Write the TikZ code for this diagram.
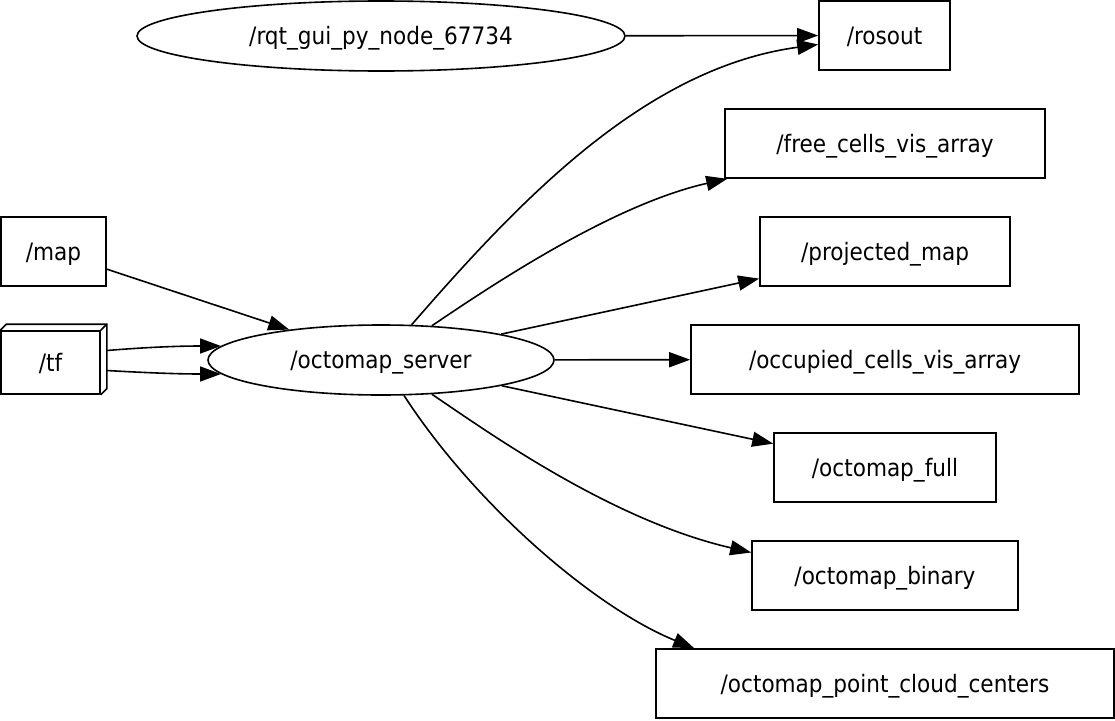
\documentclass[tikz,border=0pt]{standalone}
\usepackage{fontspec}
\setmainfont{DejaVu Sans Condensed}
\usetikzlibrary{arrows.meta,shapes.geometric,calc}
\begin{document}
\begin{tikzpicture}[x=1pt,y=-1pt,line width=1.6pt,
  lbl/.style={font=\fontsize{24}{28}\selectfont,text height=18pt,text depth=1pt},
  box/.style={lbl,draw,rectangle,inner sep=0pt,minimum height=69pt},
  ell/.style={lbl,draw,ellipse,inner sep=0pt,minimum height=70pt},
  conn/.style={-{Triangle[length=21pt,width=15pt]},line width=1.6pt}]
\useasboundingbox (0,0) rectangle (1115,720);
% nodes
\node[ell,minimum width=488pt] (rqt) at (381,36) {/rqt\_gui\_py\_node\_67734};
\node[ell,minimum width=346pt] (server) at (381,360) {/octomap\_server};
\node[box,minimum width=131pt] (rosout) at (884.5,35.5) {/rosout};
\node[box,minimum width=320pt] (free) at (885,143.5) {/free\_cells\_vis\_array};
\node[box,minimum width=250pt] (proj) at (885,251.5) {/projected\_map};
\node[box,minimum width=388pt] (occ) at (885,359.5) {/occupied\_cells\_vis\_array};
\node[box,minimum width=222pt] (full) at (885,467.5) {/octomap\_full};
\node[box,minimum width=266pt] (binary) at (885,575.5) {/octomap\_binary};
\node[box,minimum width=458pt] (pcc) at (885,683.5) {/octomap\_point\_cloud\_centers};
\node[box,minimum width=105pt] (map) at (53.5,251.5) {/map};
\node[box,minimum width=99pt,minimum height=63pt] (tf) at (50.5,362.5) {/tf};
\draw (tf.north west) -- ++(6,-6) -| ([xshift=6pt,yshift=6pt]tf.south east) -- (tf.south east);
\draw (tf.north east) -- ++(6,-6);
% connectors
\draw[conn] (rqt) -- (rosout);
\draw[conn] (map) -- (server);
\draw[conn] ([xshift=6pt,yshift=12pt]tf.east) .. controls (150,347) and (180,346) .. (server.175);
\draw[conn] ([xshift=6pt,yshift=-8pt]tf.east) .. controls (150,373) and (180,374) .. (server.185);
\draw[conn] (server) .. controls (520,200) and (645,68) .. (rosout);
\draw[conn] (server) .. controls (485,290) and (610,205) .. (free);
\draw[conn] (server) -- (proj);
\draw[conn] (server) -- (occ);
\draw[conn] (server) -- (full);
\draw[conn] (server) .. controls (485,430) and (610,520) .. ([yshift=23pt]binary.west);
\draw[conn] (server) .. controls (475,505) and (595,608) .. ([xshift=39pt]pcc.north west);
\end{tikzpicture}
\end{document}
